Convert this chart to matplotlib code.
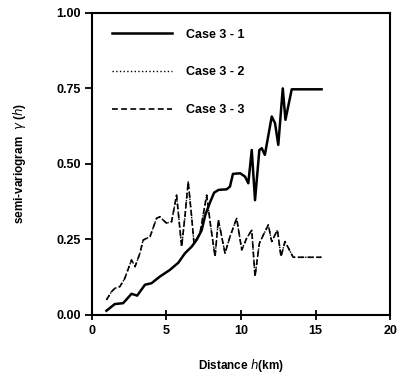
import matplotlib
matplotlib.use("Agg")
import matplotlib.pyplot as plt

plt.rcParams['font.family'] = ['Liberation Sans', 'DejaVu Sans']

# Case 3-1 (solid)
x31 = [0.98, 1.54, 2.1, 2.66, 3.04, 3.56, 4.0, 4.56, 5.23, 5.8, 6.24, 6.69, 7.02,
       7.36, 7.6, 7.9, 8.2, 8.5, 9.04, 9.26, 9.46, 9.95, 10.27, 10.49, 10.72, 10.94,
       11.23, 11.39, 11.6, 12.06, 12.28, 12.5, 12.8, 12.98, 13.4, 15.4]
y31 = [0.014, 0.036, 0.039, 0.07, 0.064, 0.1, 0.105, 0.127, 0.149, 0.173, 0.204, 0.226, 0.248,
       0.28, 0.33, 0.37, 0.405, 0.414, 0.416, 0.425, 0.467, 0.469, 0.458, 0.436, 0.546, 0.38,
       0.546, 0.552, 0.53, 0.657, 0.635, 0.563, 0.75, 0.646, 0.747, 0.747]

# Case 3-3 (dashed)
x33 = [0.98, 1.32, 1.54, 1.88, 2.2, 2.66, 2.9, 3.22, 3.44, 3.9, 4.34, 4.56, 5.0,
       5.35, 5.68, 6.02, 6.24, 6.46, 6.69, 6.85, 7.25, 7.7, 7.95, 8.26, 8.48, 8.93,
       9.26, 9.71, 10.05, 10.38, 10.72, 10.94, 11.23, 11.5, 11.83, 12.06, 12.44, 12.68,
       12.95, 13.5, 15.4]
y33 = [0.05, 0.077, 0.088, 0.094, 0.12, 0.182, 0.16, 0.204, 0.248, 0.259, 0.32, 0.325, 0.304,
       0.309, 0.397, 0.226, 0.325, 0.441, 0.325, 0.237, 0.27, 0.397, 0.3, 0.193, 0.315, 0.204,
       0.259, 0.32, 0.215, 0.254, 0.281, 0.127, 0.237, 0.265, 0.298, 0.243, 0.281, 0.193,
       0.243, 0.191, 0.191]

# Case 3-2 (dotted) lies almost on top of Case 3-3
x32 = x33
y32 = y33

fig = plt.figure(figsize=(4.01, 3.79), dpi=100)
ax = fig.add_axes([0.229, 0.169, 0.744, 0.797])

ax.plot(x31, y31, color='black', lw=1.8, ls='-', label='Case 3 - 1')
ax.plot(x32, y32, color='black', lw=1.0, ls=':', label='Case 3 - 2')
ax.plot(x33, y33, color='black', lw=1.2, ls=(0, (3.5, 2)), label='Case 3 - 3')

ax.set_xlim(0, 20)
ax.set_ylim(0, 1.0)
ax.set_xticks([0, 5, 10, 15, 20])
ax.set_yticks([0, 0.25, 0.5, 0.75, 1.0])
ax.set_yticklabels(['0.00', '0.25', '0.50', '0.75', '1.00'])

for s in ax.spines.values():
    s.set_linewidth(1.5)

ax.tick_params(axis='x', direction='inout', length=7, width=1.3, labelsize=9, pad=4)
ax.tick_params(axis='y', direction='out', length=5, width=1.3, labelsize=9, pad=3)
for lab in ax.get_xticklabels() + ax.get_yticklabels():
    lab.set_fontweight('bold')

ax.set_xlabel('Distance $h$(km)', fontsize=8.5, fontweight='bold', labelpad=14)
ax.set_ylabel(r'semi-variogram  $\gamma$ ($h$)', fontsize=8.5, fontweight='bold', labelpad=20)

leg = ax.legend(loc='upper left', bbox_to_anchor=(0.03, 0.985), frameon=False,
                handlelength=4.8, handletextpad=1.1, labelspacing=2.05,
                prop={'size': 9, 'weight': 'bold'})

fig.savefig('out.png', dpi=100)
